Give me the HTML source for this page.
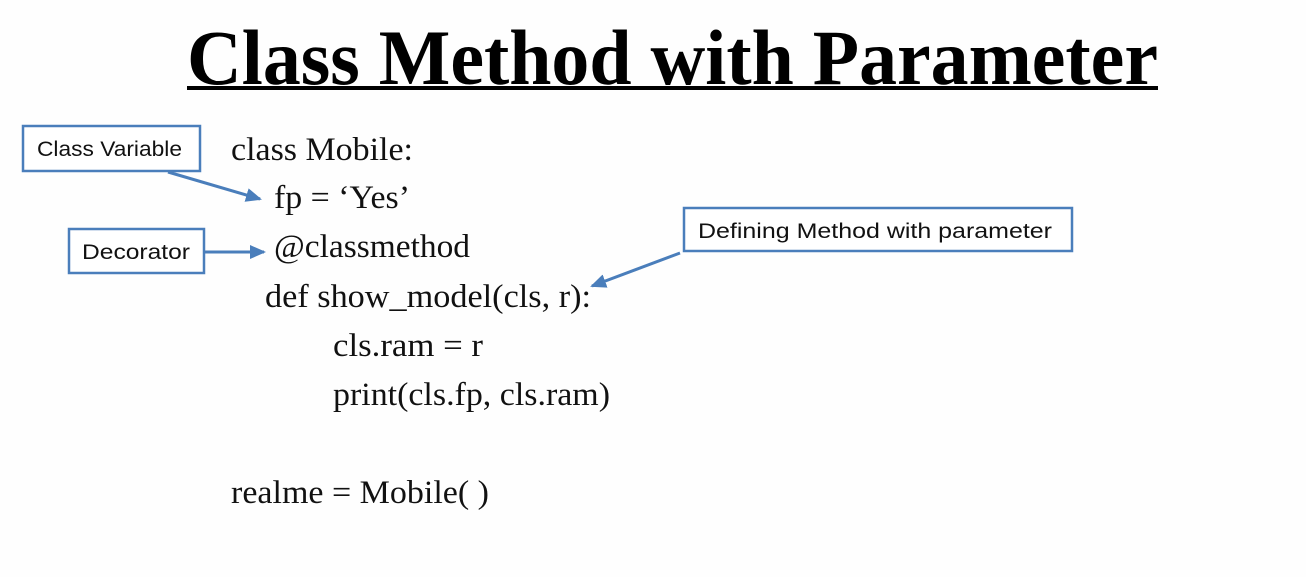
<!DOCTYPE html>
<html><head><meta charset="utf-8"><style>
html,body{margin:0;padding:0;background:#fefefe;}
svg{display:block;}
.c{font-family:"Liberation Serif",serif;font-size:33px;fill:#111;}
.b{font-family:"Liberation Sans",sans-serif;font-size:21px;fill:#111;}
</style></head><body>
<svg width="1306" height="577" viewBox="0 0 1306 577">
<defs><marker id="ah" markerWidth="16" markerHeight="14" refX="14" refY="7" orient="auto" markerUnits="userSpaceOnUse"><path d="M0,0 L16,7 L0,14 z" fill="#4a7ebb"/></marker></defs>
<text x="187" y="84" textLength="971" lengthAdjust="spacingAndGlyphs" style="font-family:'Liberation Serif',serif;font-weight:bold;font-size:78px;fill:#000">Class Method with Parameter</text>
<rect x="187" y="86" width="971" height="4" fill="#000"/>
<g>
<text class="c" x="231" y="160" textLength="182" lengthAdjust="spacingAndGlyphs">class Mobile:</text>
<text class="c" x="274" y="208" textLength="136" lengthAdjust="spacingAndGlyphs">fp = ‘Yes’</text>
<text class="c" x="274" y="257" textLength="196" lengthAdjust="spacingAndGlyphs">@classmethod</text>
<text class="c" x="265" y="307" textLength="326" lengthAdjust="spacingAndGlyphs">def show_model(cls, r):</text>
<text class="c" x="333" y="356" textLength="150" lengthAdjust="spacingAndGlyphs">cls.ram = r</text>
<text class="c" x="333" y="405" textLength="277" lengthAdjust="spacingAndGlyphs">print(cls.fp, cls.ram)</text>
<text class="c" x="231" y="503" textLength="258" lengthAdjust="spacingAndGlyphs">realme = Mobile( )</text>
</g>
<g>
<rect x="23" y="126" width="177" height="45" fill="#fff" stroke="#4a7ebb" stroke-width="2.5"/>
<text class="b" x="37" y="156" textLength="145" lengthAdjust="spacingAndGlyphs">Class Variable</text>
<line x1="168" y1="172" x2="260" y2="199" stroke="#4a7ebb" stroke-width="3" marker-end="url(#ah)"/>
</g>
<g>
<rect x="69" y="229" width="135" height="44" fill="#fff" stroke="#4a7ebb" stroke-width="2.5"/>
<text class="b" x="82" y="259" textLength="108" lengthAdjust="spacingAndGlyphs">Decorator</text>
<line x1="205" y1="252" x2="264" y2="252" stroke="#4a7ebb" stroke-width="3" marker-end="url(#ah)"/>
</g>
<g>
<rect x="684" y="208" width="388" height="43" fill="#fff" stroke="#4a7ebb" stroke-width="2.5"/>
<text class="b" x="698" y="238" textLength="354" lengthAdjust="spacingAndGlyphs">Defining Method with parameter</text>
<line x1="680" y1="253" x2="592" y2="286" stroke="#4a7ebb" stroke-width="3" marker-end="url(#ah)"/>
</g>
</svg>
</body></html>
